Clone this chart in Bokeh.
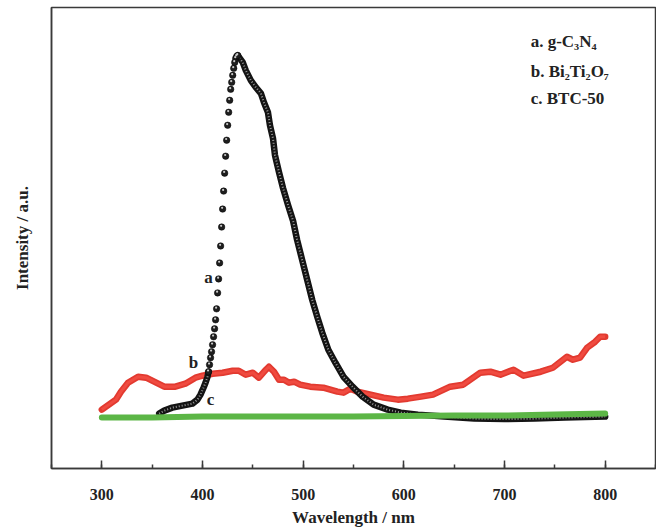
import numpy as np
from bokeh.plotting import figure
from bokeh.models import Label, SingleIntervalTicker, FixedTicker
from bokeh.embed import file_html
from bokeh.resources import INLINE

# --- Photoluminescence spectra (intensity in arbitrary units) ---

# a. g-C3N4: gentle onset, steep rising edge (sparse points), peak and long tail
wl_a_onset = [357, 362, 370, 380, 390, 395, 398, 401, 403, 405]
int_a_onset = [55, 58, 61, 63, 65, 69, 74, 81, 86, 92]

wl_a_edge = list(range(406, 436))
int_a_edge = [97, 104, 111, 117, 124, 132, 140, 149, 160, 176,
              190, 206, 223, 242, 260, 278, 296, 313, 329, 344,
              357, 369, 380, 387, 394, 401, 407, 411, 413, 414]

wl_a_tail = [435, 440, 443, 448, 453, 458, 461, 465, 467, 470, 472, 476,
             480, 485, 490, 494, 499, 504, 509, 514, 519, 525, 532, 540,
             549, 559, 570, 584, 597, 614, 640, 670, 700, 730, 760, 800]
int_a_tail = [414, 407, 399, 389, 382, 376, 367, 357, 344, 331, 314, 297,
              281, 264, 248, 229, 209, 189, 169, 152, 136, 119, 106, 92,
              82, 72, 64, 59, 56, 54, 52, 50, 49.5, 50, 51, 52]

# b. Bi2Ti2O7
wl_b = [300, 307, 314, 319, 326, 336, 344, 354, 362, 373, 383, 393, 400, 410,
        420, 430, 436, 443, 450, 456, 463, 466, 471, 476, 481, 486, 491, 497,
        507, 520, 534, 540, 547, 554, 567, 580, 594, 604, 617, 629, 646, 659,
        676, 686, 696, 709, 719, 736, 748, 762, 768, 775, 782, 790, 795, 800]
int_b = [59, 64, 69, 77, 86, 92, 91, 86, 82, 82, 85, 91, 93, 95,
         96, 98, 98, 94, 96, 91, 99, 102, 97, 89, 89, 86, 87, 84,
         82, 81, 77, 76, 80, 77, 74, 71, 69, 70, 72, 74, 82, 84,
         96, 97, 94, 99, 93, 97, 101, 112, 109, 111, 121, 127, 132, 132]

# c. BTC-50
wl_c = [300, 350, 400, 450, 500, 550, 600, 650, 700, 750, 800]
int_c = [51, 51, 52, 52, 52, 52, 52.5, 53, 53, 54, 55]

legend_lines = ["a. g-C\u2083N\u2084", "b. Bi\u2082Ti\u2082O\u2087", "c. BTC-50"]

FONT = "Liberation Serif"
INK = "#222222"

p = figure(width=656, height=529, x_range=(250, 850), y_range=(0, 462),
           output_backend="svg", toolbar_location=None,
           min_border_left=51, min_border_right=1, min_border_top=7,
           min_border_bottom=60)
p.background_fill_color = "white"
p.border_fill_color = "white"
p.grid.visible = False
p.outline_line_color = "#3a3a3a"
p.outline_line_width = 1.5

# x axis: ticks pointing inward, one minor tick between labels
p.xaxis.ticker = SingleIntervalTicker(interval=100, num_minor_ticks=2)
p.xaxis.axis_line_color = "#3a3a3a"
p.xaxis.axis_line_width = 1.5
p.xaxis.major_tick_in = 8
p.xaxis.major_tick_out = 0
p.xaxis.minor_tick_in = 4
p.xaxis.minor_tick_out = 0
p.xaxis.major_tick_line_color = "#3a3a3a"
p.xaxis.major_tick_line_width = 1.5
p.xaxis.minor_tick_line_color = "#3a3a3a"
p.xaxis.minor_tick_line_width = 1.5
p.xaxis.major_label_text_font = FONT
p.xaxis.major_label_text_font_style = "bold"
p.xaxis.major_label_text_font_size = "16px"
p.xaxis.major_label_text_color = INK
p.xaxis.major_label_standoff = 20
p.xaxis.axis_label = "Wavelength / nm"
p.xaxis.axis_label_text_font = FONT
p.xaxis.axis_label_text_font_style = "bold"
p.xaxis.axis_label_text_font_size = "17px"
p.xaxis.axis_label_text_color = INK
p.xaxis.axis_label_standoff = 5

# y axis: no ticks, only the title
p.yaxis.ticker = FixedTicker(ticks=[])
p.yaxis.axis_line_color = "#3a3a3a"
p.yaxis.axis_line_width = 1.5
p.yaxis.axis_label = "Intensity / a.u."
p.yaxis.axis_label_text_font = FONT
p.yaxis.axis_label_text_font_style = "bold"
p.yaxis.axis_label_text_font_size = "17px"
p.yaxis.axis_label_text_color = INK
p.yaxis.axis_label_standoff = 20

# b. Bi2Ti2O7 (red)
p.line(wl_b, int_b, line_color="#e23a30", line_width=6.5, line_cap="round",
       line_join="round")
p.line(wl_b, int_b, line_color="#f04b40", line_width=3, line_join="round")

# a. g-C3N4 dense parts drawn as a beaded chain
for wl, it in ((wl_a_onset + [wl_a_edge[0]], int_a_onset + [int_a_edge[0]]),
               (wl_a_tail, int_a_tail)):
    p.line(wl, it, line_color="#141414", line_width=6.5, line_cap="round",
           line_join="round")
    p.line(wl, it, line_color="#9a9a9a", line_width=2, line_dash="1 2")

# a. g-C3N4 rising edge: individual spheres
p.scatter(wl_a_edge, int_a_edge, size=6.5, fill_color="#1e1e1e",
          line_color="#000000", line_width=0.5)
p.scatter(np.array(wl_a_edge) - 0.5, np.array(int_a_edge) + 1.2, size=2.2,
          fill_color="#c8c8c8", line_color=None)

# c. BTC-50 (green)
p.line(wl_c, int_c, line_color="#5cb646", line_width=6, line_cap="round")

# curve tags
for txt, x, y in (("a", 406, 191), ("b", 391, 106), ("c", 408, 69)):
    p.add_layout(Label(x=x, y=y, text=txt, text_font=FONT,
                       text_font_style="bold", text_font_size="17px",
                       text_color=INK, text_align="center",
                       text_baseline="middle"))

# legend text block
for txt, y in zip(legend_lines, (428, 398, 371)):
    p.add_layout(Label(x=726, y=y, text=txt, text_font=FONT,
                       text_font_style="bold", text_font_size="17px",
                       text_color=INK, text_align="left",
                       text_baseline="middle"))

open("out.html", "w").write(file_html(p, INLINE))
